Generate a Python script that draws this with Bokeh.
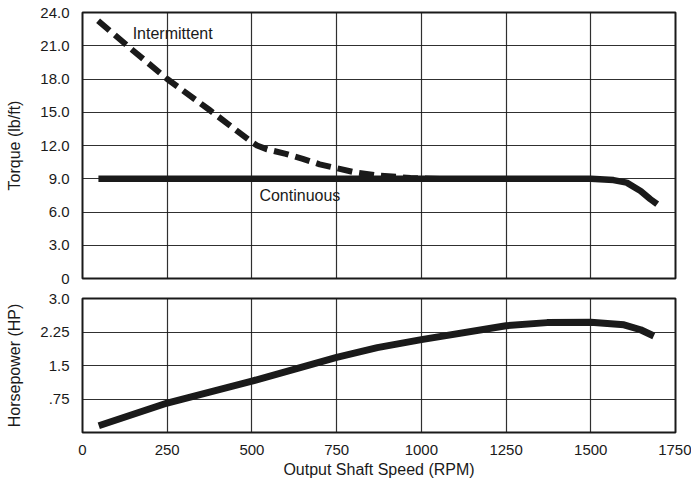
from bokeh.plotting import figure
from bokeh.layouts import column
from bokeh.models import Range1d, FixedTicker, Label
from bokeh.embed import file_html
from bokeh.resources import INLINE

# ---- data ----
rpm_cont = [47, 250, 500, 750, 1000, 1250, 1500, 1567, 1606, 1647, 1676, 1696]
torque_cont = [9.0, 9.0, 9.0, 9.0, 9.0, 9.0, 9.0, 8.88, 8.65, 7.9, 7.15, 6.7]

rpm_int = [46, 148, 250, 375, 500, 515, 545, 600, 650, 700, 750, 800, 870, 968, 1056]
torque_int = [23.25, 20.6, 18.0, 15.2, 12.3, 12.0, 11.65, 11.25, 10.8, 10.3, 9.95, 9.6, 9.3, 9.07, 8.97]

rpm_hp = [48, 250, 500, 750, 870, 1000, 1250, 1371, 1500, 1598, 1647, 1686]
hp = [0.15, 0.66, 1.15, 1.68, 1.9, 2.08, 2.39, 2.46, 2.47, 2.41, 2.30, 2.16]

x_ticks = [0, 250, 500, 750, 1000, 1250, 1500, 1750]
x_labels = ["0", "250", "500", "750", "1000", "1250", "1500", "1750"]
torque_ticks = [0, 3, 6, 9, 12, 15, 18, 21, 24]
torque_labels = ["0", "3.0", "6.0", "9.0", "12.0", "15.0", "18.0", "21.0", "24.0"]
hp_ticks = [0.75, 1.5, 2.25, 3.0]
hp_labels = [".75", "1.5", "2.25", "3.0"]

FONT = "Liberation Sans"
INK = "#1a1a1a"


def style(p):
    p.outline_line_color = INK
    p.outline_line_width = 2
    p.background_fill_color = "white"
    p.border_fill_color = "white"
    p.grid.grid_line_color = INK
    p.grid.grid_line_width = 1.2
    p.grid.grid_line_alpha = 0.9
    for ax in p.axis:
        ax.axis_line_color = None
        ax.major_tick_line_color = None
        ax.minor_tick_line_color = None
        ax.major_label_text_font = FONT
        ax.major_label_text_font_size = "15px"
        ax.major_label_text_color = INK
        ax.axis_label_text_font = FONT
        ax.axis_label_text_font_size = "16px"
        ax.axis_label_text_font_style = "normal"
        ax.axis_label_text_color = INK


# ---- top: torque ----
top = figure(width=691, height=288, output_backend="svg", toolbar_location=None,
             x_range=Range1d(0, 1750), y_range=Range1d(0, 24),
             min_border_left=82, min_border_right=16, min_border_top=12, min_border_bottom=10)
style(top)
top.xaxis.visible = False
top.xgrid.ticker = FixedTicker(ticks=x_ticks)
top.yaxis.ticker = FixedTicker(ticks=torque_ticks)
top.yaxis.major_label_overrides = dict(zip(torque_ticks, torque_labels))
top.yaxis.major_label_standoff = 7
top.yaxis.axis_label = "Torque (lb/ft)"
top.yaxis.axis_label_standoff = 14

top.line(rpm_int, torque_int, line_color=INK, line_width=6, line_dash="15 7",
         line_join="round")
top.line(rpm_cont, torque_cont, line_color=INK, line_width=6.5, line_cap="butt",
         line_join="round")
top.add_layout(Label(x=148, y=22.1, text="Intermittent", text_font=FONT,
                     text_font_size="16px", text_color=INK,
                     text_baseline="middle", text_align="left"))
top.add_layout(Label(x=522, y=7.46, text="Continuous", text_font=FONT,
                     text_font_size="16px", text_color=INK,
                     text_baseline="middle", text_align="left"))

# ---- bottom: horsepower ----
bot = figure(width=691, height=192, output_backend="svg", toolbar_location=None,
             x_range=top.x_range, y_range=Range1d(0, 3),
             min_border_left=82, min_border_right=16, min_border_top=10, min_border_bottom=45)
style(bot)
bot.xaxis.ticker = FixedTicker(ticks=x_ticks)
bot.xaxis.major_label_overrides = dict(zip(x_ticks, x_labels))
bot.xaxis.major_label_standoff = 6
bot.xaxis.axis_label = "Output Shaft Speed (RPM)"
bot.xaxis.axis_label_standoff = 3
bot.yaxis.ticker = FixedTicker(ticks=hp_ticks)
bot.yaxis.major_label_overrides = dict(zip(hp_ticks, hp_labels))
bot.yaxis.major_label_standoff = 7
bot.yaxis.axis_label = "Horsepower (HP)"
bot.yaxis.axis_label_standoff = 14

bot.line(rpm_hp, hp, line_color=INK, line_width=7, line_cap="butt", line_join="round")

layout = column(top, bot, spacing=0)
open("out.html", "w").write(file_html(layout, INLINE))
